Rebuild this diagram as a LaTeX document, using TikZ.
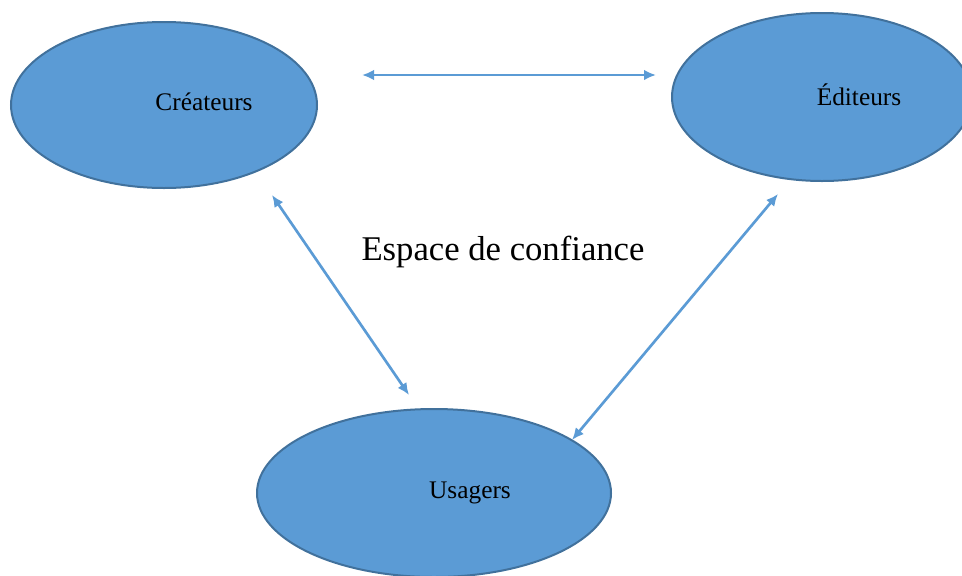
\documentclass[tikz,border=0pt]{standalone}
\usepackage{fontspec}
\setmainfont{Liberation Serif}
\usetikzlibrary{arrows.meta}
\usetikzlibrary{positioning}
\usetikzlibrary{shapes.geometric}
\definecolor{RoleBlue}{HTML}{5B9BD5}
\definecolor{RoleEdge}{HTML}{41719C}
\tikzset{
  role/.style={ellipse,draw=RoleEdge,line width=1.5pt,fill=RoleBlue,inner sep=0pt},
  link/.style={{Latex[length=9pt,width=8pt]}-{Latex[length=9pt,width=8pt]},RoleBlue,line width=2pt},
  rolename/.style={font=\fontsize{19}{22}\selectfont,inner sep=0pt}
}

\begin{document}
\begin{tikzpicture}[x=0.75pt,y=-0.75pt]
  \useasboundingbox (0,0) rectangle (962,575);
  \clip (0,0) rectangle (962,575);

  \node[role,minimum width=229.5pt,minimum height=124.5pt] (Crea) at (164,105) {};
  \node[role,minimum width=225pt,minimum height=126pt] (Edit) at (822,97) {};
  \node[role,minimum width=265.5pt,minimum height=126pt] (Usag) at (434,493) {};

  \node[rolename] (CreaName) at (204,102) {Créateurs};
  \node[rolename] (EditName) at (859,95) {Éditeurs};
  \node[rolename] (UsagName) at (470,493) {Usagers};

  \node[font=\fontsize{26}{30}\selectfont,inner sep=0pt] (Espace) at (503,252) {Espace de confiance};

  \coordinate (CreaE) at (362,75);
  \coordinate (EditW) at (656,75);
  \coordinate (CreaS) at (272,195);
  \coordinate (UsagN) at (409,395);
  \coordinate (EditS) at (778,194);
  \coordinate (UsagE) at (572,440);

  \draw[link] (CreaE) -- (EditW);
  \draw[link] (CreaS) -- (UsagN);
  \draw[link] (EditS) -- (UsagE);
\end{tikzpicture}
\end{document}
